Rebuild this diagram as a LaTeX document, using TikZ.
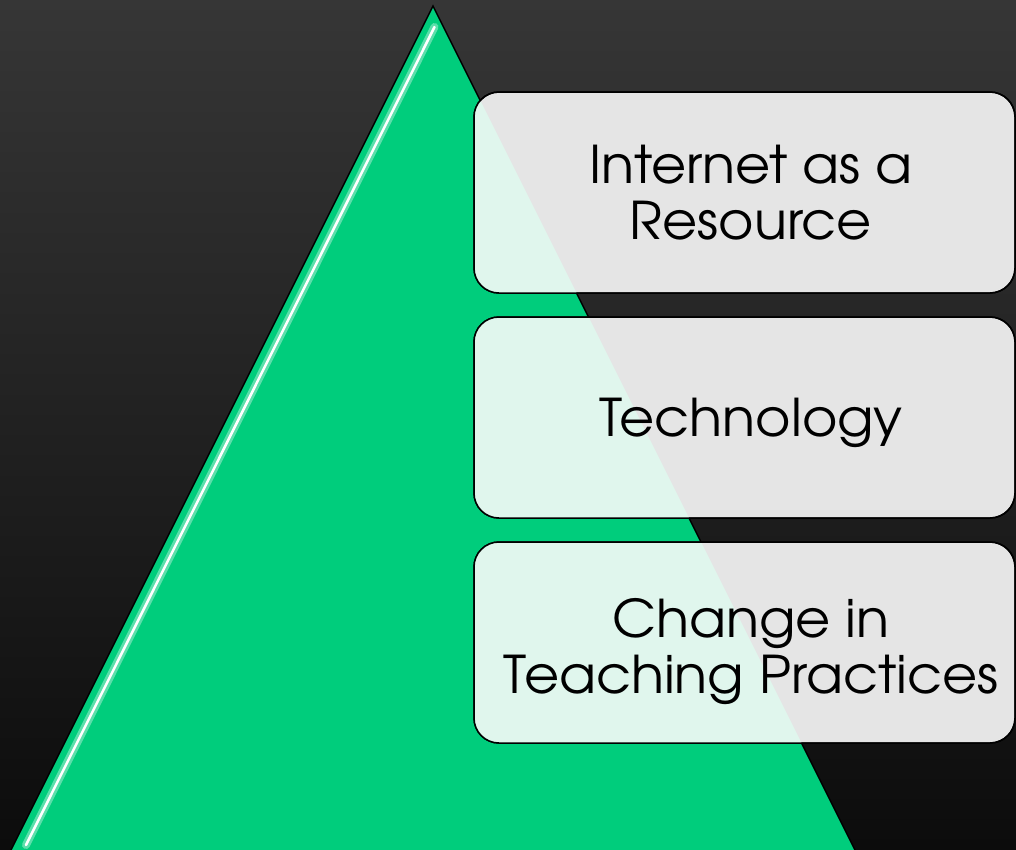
\documentclass[tikz,border=0pt]{standalone}
\usepackage{fontspec}
\setmainfont[FakeStretch=1.04]{TeX Gyre Adventor}
\definecolor{bgtop}{RGB}{54,54,54}
\definecolor{bgbot}{RGB}{12,12,12}
\definecolor{tri}{RGB}{0,205,124}
\definecolor{boxgray}{RGB}{229,229,229}
\definecolor{boxmint}{RGB}{224,246,237}
\tikzset{
  boxnode/.style={draw=black, line width=1.5pt, fill=boxgray, rounded corners=25pt,
    minimum width=541pt, minimum height=201pt, inner sep=0pt, outer sep=0pt},
  lbl/.style={align=center, text=black, font=\fontsize{52}{56}\selectfont, inner sep=0pt, anchor=base}
}
\begin{document}
\begin{tikzpicture}[x=1pt,y=-1pt]
\useasboundingbox (0,0) rectangle (1016,849);
\fill[top color=bgtop,bottom color=bgbot] (0,0) rectangle (1016,849);
\clip (0,0) rectangle (1016,849);
% pyramid
\coordinate (apex) at (433,6);
\coordinate (bl) at (6,860);
\coordinate (br) at (860,860);
\fill[tri] (apex) -- (br) -- (bl) -- cycle;
\draw[black, line width=1.5pt, line join=miter] (bl) -- (apex) -- (br);
\coordinate (h1) at (434.5,27);
\coordinate (h2) at (26,845);
\draw[tri!40!white, line width=8pt, opacity=0.6, line cap=round] (h1) -- (h2);
\draw[white, line width=2.5pt, line cap=round] (h1) -- (h2);
% boxes
\foreach \n/\y in {b1/192.5, b2/417.5, b3/642.5}{
  \node[boxnode] (\n) at (744.5,\y) {};
  \begin{scope}
    \clip[rounded corners=25pt] (\n.north west) rectangle (\n.south east);
    \fill[boxmint] (apex) -- (br) -- (bl) -- cycle;
  \end{scope}
  \draw[black, line width=1.5pt, rounded corners=25pt] (\n.north west) rectangle (\n.south east);
}
\node[lbl] (t1) at (751,239) {Internet as a\\Resource};
\node[lbl] (t2) at (751,436) {Technology};
\node[lbl] (t3) at (751,693) {Change in\\Teaching Practices};
\end{tikzpicture}
\end{document}
